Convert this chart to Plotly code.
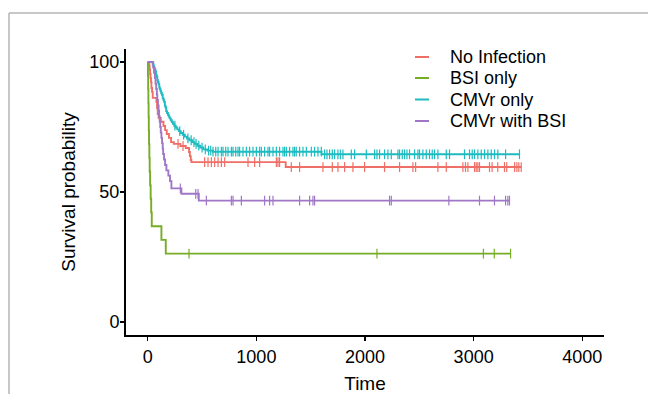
import numpy as np
import plotly.graph_objects as go

# ---------------- data ----------------
groups = ["No Infection", "BSI only", "CMVr only", "CMVr with BSI"]
colors = ["#EF6F66", "#77AC27", "#1DBCC0", "#A077C7"]

# No Infection
noinf_time = [0, 14, 18, 22, 26, 30, 34, 40, 46, 80, 86, 92, 100, 120, 145, 160, 175, 195,
              215, 240, 300, 350, 380, 388, 396, 402, 1270]
noinf_surv = [100, 98.5, 96.9, 95.4, 93.8, 92.3, 90.0, 88.5, 86.2, 84.6, 82.3, 80.0, 78.5, 77.0,
              75.4, 73.8, 72.3, 70.8, 69.2, 68.5, 67.7, 66.9, 65.4, 63.8, 62.3, 61.5, 59.6]
noinf_end = 3440
noinf_cens = [279, 325, 524, 555, 586, 616, 647, 678, 708, 923, 984, 1030, 1184, 1199, 1214,
              1322, 1398, 1613, 1699, 1751, 1812, 1889, 1996, 2180, 2318, 2441, 2466, 2671,
              2748, 2901, 2925, 2947, 3008, 3024, 3039, 3054, 3146, 3170, 3222, 3284, 3305,
              3377, 3398, 3416, 3438]

# BSI only
bsi_time = [0, 2, 4, 6, 8, 10, 12, 15, 18, 22, 27, 32, 37, 126, 166]
bsi_surv = [100, 94.7, 89.5, 84.2, 78.9, 73.7, 68.4, 63.2, 57.9, 52.6, 47.4, 42.1, 36.8, 31.6, 26.3]
bsi_end = 3340
bsi_cens = [380, 2110, 3090, 3190, 3340]

# CMVr only
cmv_time = [0, 45, 52, 58, 64, 70, 76, 82, 88, 94, 100, 106, 112, 118, 124, 130, 138, 146, 152,
            158, 164, 170, 178, 186, 194, 202, 212, 222, 232, 244, 258, 272, 288, 304, 322, 342,
            362, 384, 408, 432, 456, 482, 512, 548, 600, 1600]
cmv_surv = [100, 99.3, 98.6, 97.9, 97.2, 96.5, 95.1, 94.4, 93.0, 92.3, 91.6, 90.2, 89.5, 88.8,
            88.1, 87.4, 86.0, 85.3, 84.6, 83.2, 82.5, 81.1, 80.4, 79.7, 79.0, 78.3, 77.6, 76.9,
            76.2, 75.5, 74.8, 74.1, 73.4, 72.7, 72.0, 71.3, 70.6, 69.9, 69.2, 68.5, 67.8, 67.1,
            66.4, 65.9, 65.5, 64.5]
cmv_end = 3422
cmv_cens = [250, 295, 330, 370, 400, 425, 445, 470, 500, 530, 560, 580,
            601, 626, 647, 678, 693, 718, 739, 770, 785, 810, 831, 846, 877, 908, 938, 969,
            1000, 1030, 1046, 1076, 1107, 1122, 1153, 1184, 1214, 1245, 1260, 1276, 1306, 1337,
            1352, 1367, 1398, 1429, 1460, 1506, 1536, 1567, 1598, 1628, 1650, 1674, 1699, 1720,
            1751, 1773, 1797, 1874, 1904, 2012, 2088, 2110, 2134, 2180, 2211, 2242, 2303, 2318,
            2343, 2364, 2386, 2410, 2456, 2487, 2502, 2533, 2564, 2594, 2619, 2640, 2671, 2748,
            2778, 2916, 2962, 2987, 3008, 3039, 3070, 3100, 3131, 3162, 3192, 3223, 3294, 3422]

# CMVr with BSI
cwb_time = [0, 50, 58, 66, 72, 78, 84, 88, 94, 100, 104, 110, 115, 120, 126, 132, 138, 142, 150,
            160, 172, 190, 205, 218, 310, 470]
cwb_surv = [100, 97.9, 95.8, 93.8, 91.7, 89.6, 87.5, 85.4, 83.3, 81.3, 79.2, 77.1, 75.0, 72.9,
            70.8, 68.8, 66.7, 64.6, 62.5, 60.4, 58.3, 56.3, 54.2, 51.4, 49.3, 46.7]
cwb_end = 3330
cwb_cens = [300, 442, 463, 540, 770, 785, 862, 1076, 1122, 1153, 1398, 1490, 1521, 1536, 2226,
            2242, 2772, 3054, 3192, 3294, 3315, 3330]

x_ticks = [0, 1000, 2000, 3000, 4000]
y_ticks = [0, 50, 100]

series = [
    (noinf_time, noinf_surv, noinf_end, noinf_cens),
    (bsi_time, bsi_surv, bsi_end, bsi_cens),
    (cmv_time, cmv_surv, cmv_end, cmv_cens),
    (cwb_time, cwb_surv, cwb_end, cwb_cens),
]

# ---------------- figure ----------------
fig = go.Figure()
for name, col, (t, s, tend, cens) in zip(groups, colors, series):
    xs = list(t) + [tend]
    ys = list(s) + [s[-1]]
    fig.add_trace(go.Scatter(x=xs, y=ys, mode="lines", line=dict(color=col, width=1.9, shape="hv"),
                             name=name, showlegend=False, hoverinfo="skip"))
    idx = np.searchsorted(np.array(t), np.array(cens), side="right") - 1
    cy = np.array(s)[idx]
    fig.add_trace(go.Scatter(x=cens, y=cy, mode="markers", showlegend=False, hoverinfo="skip",
                             marker=dict(symbol="line-ns", size=7, color=col,
                                         line=dict(color=col, width=1.2))))

FONT = "Liberation Sans, Arial, sans-serif"
W, H = 648, 394
L, R, T, B = 126, 44, 49, 59
pw, ph = W - L - R, H - T - B

def px(xp):
    return (xp - L) / pw

def py(yp):
    return (H - B - yp) / ph

# manual legend
leg_y = [57, 78, 99.5, 121]
for name, col, yy in zip(groups, colors, leg_y):
    fig.add_shape(type="line", xref="paper", yref="paper", x0=px(415), x1=px(429),
                  y0=py(yy), y1=py(yy), line=dict(color=col, width=2))
    fig.add_annotation(xref="paper", yref="paper", x=px(448), y=py(yy), text=name,
                       showarrow=False, xanchor="left", yanchor="middle",
                       font=dict(family=FONT, size=18, color="black"))

# gray outer frame (partially visible)
fig.add_shape(type="line", xref="paper", yref="paper", x0=px(9), x1=px(660), y0=py(13), y1=py(13),
              line=dict(color="#B5B5B5", width=1.5))
fig.add_shape(type="line", xref="paper", yref="paper", x0=px(9), x1=px(9), y0=py(13), y1=py(400),
              line=dict(color="#B5B5B5", width=1.5))

fig.update_layout(
    width=W, height=H,
    margin=dict(l=L, r=R, t=T, b=B, autoexpand=False),
    paper_bgcolor="white", plot_bgcolor="white",
    font=dict(family=FONT, size=18, color="black"),
    showlegend=False,
)
fig.update_xaxes(range=[-200, 4200], tickvals=x_ticks, ticktext=[str(v) for v in x_ticks],
                 showgrid=False, zeroline=False, showline=True, linecolor="black", linewidth=2,
                 ticks="outside", ticklen=4, tickwidth=1.5, tickcolor="black",
                 tickfont=dict(family=FONT, size=18, color="black"),
                 title=dict(text="Time", font=dict(family=FONT, size=19, color="black"), standoff=20))
fig.update_yaxes(range=[-5, 105], tickvals=y_ticks, ticktext=[str(v) for v in y_ticks],
                 showgrid=False, zeroline=False, showline=True, linecolor="black", linewidth=2,
                 ticks="outside", ticklen=4, tickwidth=1.5, tickcolor="black", ticklabelstandoff=-3,
                 tickfont=dict(family=FONT, size=18, color="black"),
                 title=dict(text="Survival probability", font=dict(family=FONT, size=19, color="black"),
                            standoff=9))

fig.write_html("out.html", config={"displayModeBar": False, "staticPlot": True},
               post_script="document.body.style.margin='0';document.body.style.overflow='hidden';")
